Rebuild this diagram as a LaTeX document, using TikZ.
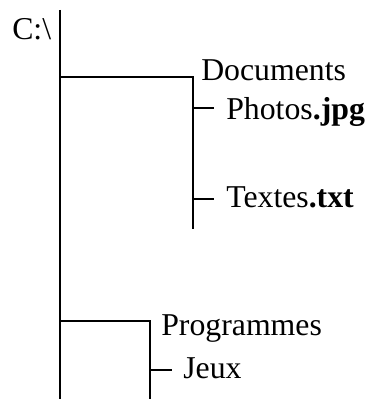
\documentclass[tikz,border=0pt]{standalone}
\usepackage{fontspec}
\setmainfont{Liberation Serif}
\usepackage{tikz}

\begin{document}
\begin{tikzpicture}[x=0.025cm,y=-0.025cm,
        branch/.style={line width=1.5pt},
        entry/.style={anchor=base west,inner sep=0pt,font=\fontsize{22.6}{26}\selectfont}]
        \useasboundingbox (0,0) rectangle (369,399);
        % root
        \node[entry] (root) at (12,40) {C:\textbackslash};
        \coordinate (roottop) at (60,10);
        \coordinate (rootend) at (60,399);
        \draw[branch] (roottop) -- (rootend);
        % Documents
        \node[entry] (docs) at (201,81) {Documents};
        \node[entry] (photos) at (226,120) {Photos\textbf{.jpg}};
        \node[entry] (textes) at (226,207) {Textes\textbf{.txt}};
        \coordinate (docsfork) at (60,77);
        \coordinate (docscorner) at (193,77);
        \coordinate (docsend) at (193,229);
        \coordinate (photosfork) at (193,108);
        \coordinate (photostip) at (214,108);
        \coordinate (textesfork) at (193,199);
        \coordinate (textestip) at (214,199);
        \draw[branch] (docsfork) -- (docscorner) -- (docsend);
        \draw[branch] (photosfork) -- (photostip);
        \draw[branch] (textesfork) -- (textestip);
        % Programmes
        \node[entry] (progs) at (161,335) {Programmes};
        \node[entry] (jeux) at (183,378) {Jeux};
        \coordinate (progsfork) at (60,321);
        \coordinate (progscorner) at (150,321);
        \coordinate (progsend) at (150,399);
        \coordinate (jeuxfork) at (150,370);
        \coordinate (jeuxtip) at (172,370);
        \draw[branch] (progsfork) -- (progscorner) -- (progsend);
        \draw[branch] (jeuxfork) -- (jeuxtip);
\end{tikzpicture}
\end{document}
